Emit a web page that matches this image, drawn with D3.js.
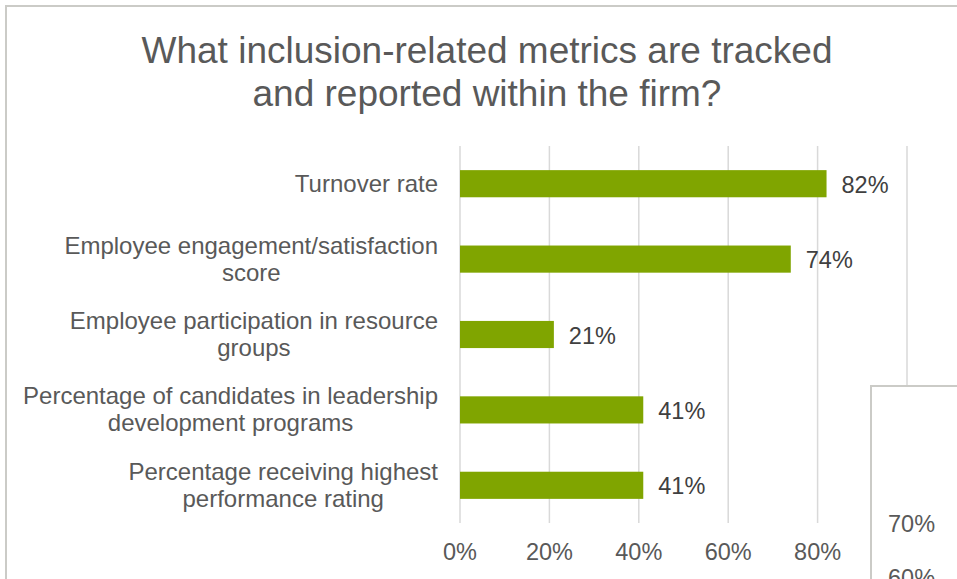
<!DOCTYPE html>
<html>
<head>
<meta charset="UTF-8">
<script src="https://cdn.jsdelivr.net/npm/d3@7"></script>
<style>
  body { margin: 0; background: #fff; }
  text { font-family: "Liberation Sans", Arial, sans-serif; }
</style>
</head>
<body>
<svg id="chart" width="957" height="579"></svg>
<script>
// data
const categories = [
  ["Turnover rate"],
  ["Employee engagement/satisfaction", "score"],
  ["Employee participation in resource", "groups"],
  ["Percentage of candidates in leadership", "development programs"],
  ["Percentage receiving highest", "performance rating"]
];
const values = [82, 74, 21, 41, 41];
const xTicks = [0, 20, 40, 60, 80, 100];
const titleLines = ["What inclusion-related metrics are tracked", "and reported within the firm?"];
// the next chart peeking in from the bottom right
const otherTicks = ["70%", "60%"];

const svg = d3.select("#chart");
const W = 957, H = 579;

// outer chart frame
svg.append("rect")
  .attr("x", 6).attr("y", 6)
  .attr("width", W + 10).attr("height", H + 10)
  .attr("fill", "#fff")
  .attr("stroke", "#cbcbc7").attr("stroke-width", 2);

svg.append("text")
  .attr("text-anchor", "middle")
  .attr("fill", "#595959")
  .style("font-size", "37px")
  .selectAll("tspan").data(titleLines).join("tspan")
  .attr("x", 487)
  .attr("y", (d, i) => 63 + i * 43)
  .text(d => d);

const x = d3.scaleLinear().domain([0, 100]).range([460, 907]);
const y = d3.scaleBand().domain(d3.range(categories.length)).range([146, 523]).paddingInner(0.64).paddingOuter(0.32);

// gridlines
svg.append("g").selectAll("line").data(xTicks).join("line")
  .attr("x1", d => x(d)).attr("x2", d => x(d))
  .attr("y1", 146).attr("y2", 523)
  .attr("stroke", "#d9d9d9").attr("stroke-width", 1.5);

// bars
svg.append("g").selectAll("rect").data(values).join("rect")
  .attr("x", x(0))
  .attr("y", (d, i) => y(i))
  .attr("width", d => x(d) - x(0))
  .attr("height", y.bandwidth())
  .attr("fill", "#80a500");

// data labels
svg.append("g").selectAll("text").data(values).join("text")
  .attr("x", d => x(d) + 15)
  .attr("y", (d, i) => y(i) + y.bandwidth() / 2 + 9)
  .attr("fill", "#404040")
  .style("font-size", "23.5px")
  .text(d => d + "%");

// x axis tick labels
svg.append("g").selectAll("text").data(xTicks.filter(d => d < 100)).join("text")
  .attr("x", d => x(d))
  .attr("y", 560)
  .attr("text-anchor", "middle")
  .attr("fill", "#595959")
  .style("font-size", "23.5px")
  .text(d => d + "%");

// category labels: block right-aligned, lines centered within it
const catG = svg.append("g");
categories.forEach((lines, i) => {
  const cy = y(i) + y.bandwidth() / 2;
  const t = catG.append("text")
    .attr("fill", "#595959")
    .attr("text-anchor", "middle")
    .style("font-size", "24px");
  const spans = t.selectAll("tspan").data(lines).join("tspan")
    .attr("y", (d, j) => cy + 8 + (j - (lines.length - 1) / 2) * 27)
    .text(d => d);
  let maxW = 0;
  spans.each(function() { maxW = Math.max(maxW, this.getComputedTextLength()); });
  spans.attr("x", 438 - maxW / 2);
});

// overlapping panel of another chart
svg.append("rect")
  .attr("x", 871).attr("y", 386)
  .attr("width", 200).attr("height", 300)
  .attr("fill", "#fff")
  .attr("stroke", "#cbcbc7").attr("stroke-width", 2);

svg.append("g").selectAll("text").data(otherTicks).join("text")
  .attr("x", 888)
  .attr("y", (d, i) => 532 + i * 54)
  .attr("fill", "#595959")
  .style("font-size", "23.5px")
  .text(d => d);
</script>
</body>
</html>
